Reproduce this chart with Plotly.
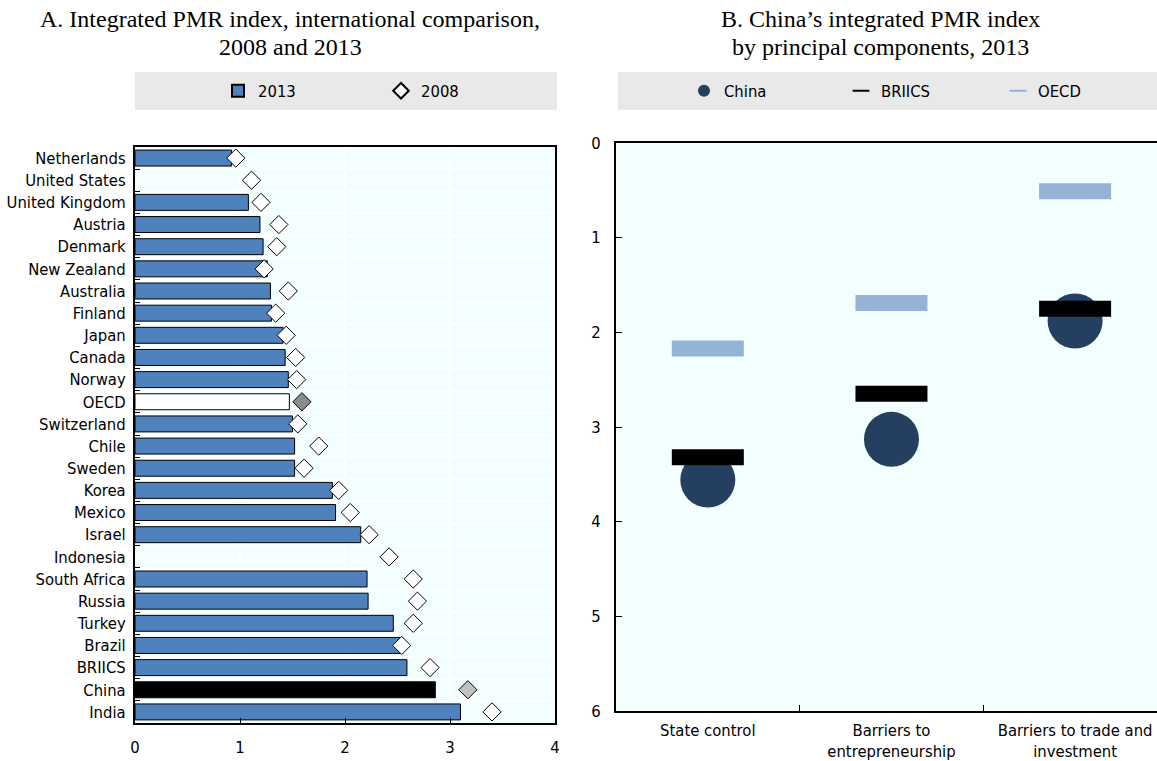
import plotly.graph_objects as go

# Panel A data: integrated PMR index by country
countries = ["Netherlands", "United States", "United Kingdom", "Austria", "Denmark",
             "New Zealand", "Australia", "Finland", "Japan", "Canada", "Norway", "OECD",
             "Switzerland", "Chile", "Sweden", "Korea", "Mexico", "Israel", "Indonesia",
             "South Africa", "Russia", "Turkey", "Brazil", "BRIICS", "China", "India"]
pmr_2013 = [0.92, None, 1.08, 1.19, 1.22, 1.26, 1.29, 1.30, 1.41, 1.43, 1.46, 1.47,
            1.50, 1.52, 1.52, 1.88, 1.91, 2.15, None, 2.21, 2.22, 2.46, 2.55, 2.59,
            2.86, 3.10]
pmr_2008 = [0.96, 1.11, 1.20, 1.37, 1.35, 1.23, 1.46, 1.34, 1.44, 1.53, 1.54, 1.59,
            1.55, 1.75, 1.61, 1.94, 2.05, 2.23, 2.42, 2.65, 2.69, 2.65, 2.54, 2.81,
            3.17, 3.40]

# Panel B data: China's PMR by principal component
components = ["State control", "Barriers to<br>entrepreneurship",
              "Barriers to trade and<br>investment"]
china_vals = [3.56, 3.13, 1.88]
briics_vals = [3.32, 2.65, 1.75]
oecd_vals = [2.17, 1.69, 0.51]

BLUE = "#4F81BD"
NAVY = "#243F60"
LIGHT_BLUE = "#95B3D7"
PLOT_BG = "#F3FEFE"
BAND_BG = "#E9E9E9"
SANS = "DejaVu Sans Condensed, Liberation Sans Narrow, Arial Narrow, sans-serif"
SERIF = "Liberation Serif, Times New Roman, serif"

bar_colors = []
for c in countries:
    if c == "OECD":
        bar_colors.append("white")
    elif c == "China":
        bar_colors.append("black")
    else:
        bar_colors.append(BLUE)

diamond_colors = []
for c in countries:
    if c == "OECD":
        diamond_colors.append("#8C8C8C")
    elif c == "China":
        diamond_colors.append("#C0C0C0")
    else:
        diamond_colors.append("white")

fig = go.Figure()

fig.add_trace(go.Bar(
    x=pmr_2013, y=countries, orientation="h", name="2013",
    marker=dict(color=bar_colors, line=dict(color="black", width=1)),
    xaxis="x", yaxis="y", legend="legend", showlegend=True,
))
fig.add_trace(go.Scatter(
    x=pmr_2008, y=countries, mode="markers", name="2008",
    marker=dict(symbol="diamond", size=14, color=diamond_colors,
                line=dict(color="black", width=1)),
    xaxis="x", yaxis="y", legend="legend",
))

# line-ew markers are drawn 1.4x the marker size in length
DASH_SIZE = 72 / 1.4

fig.add_trace(go.Scatter(
    x=components, y=china_vals, mode="markers", name="China",
    marker=dict(symbol="circle", size=55, color=NAVY, line=dict(width=0)),
    xaxis="x2", yaxis="y2", legend="legend2",
))
fig.add_trace(go.Scatter(
    x=components, y=briics_vals, mode="markers", name="BRIICS",
    marker=dict(symbol="line-ew", size=DASH_SIZE, color="black",
                line=dict(color="black", width=16)),
    xaxis="x2", yaxis="y2", legend="legend2",
))
fig.add_trace(go.Scatter(
    x=components, y=oecd_vals, mode="markers", name="OECD",
    marker=dict(symbol="line-ew", size=DASH_SIZE, color=LIGHT_BLUE,
                line=dict(color=LIGHT_BLUE, width=16)),
    xaxis="x2", yaxis="y2", legend="legend2",
))

W, H = 1157, 761

def px_x(p):
    return p / W

def px_y(p):
    return 1 - p / H

axis_font = dict(family=SANS, size=16.5, color="black")
title_font = dict(family=SERIF, size=24, color="black")
n_countries = len(countries)

fig.update_layout(
    width=W, height=H,
    margin=dict(l=0, r=0, t=0, b=0),
    paper_bgcolor="white",
    plot_bgcolor=PLOT_BG,
    bargap=0.28,
    font=dict(family=SANS, size=16.5, color="black"),
    xaxis=dict(
        domain=[px_x(135), px_x(555)], range=[0, 4], dtick=1,
        showline=True, linecolor="black", linewidth=2, mirror=True,
        ticks="inside", ticklen=5, tickcolor="black",
        showgrid=True, gridcolor="white", gridwidth=1.5,
        zeroline=False, tickfont=axis_font, anchor="y",
        automargin=False, ticklabelstandoff=8,
    ),
    yaxis=dict(
        domain=[px_y(723), px_y(147)],
        categoryorder="array", categoryarray=countries,
        range=[n_countries - 0.5, -0.5],
        tickmode="array", tickvals=countries, ticktext=countries,
        showline=True, linecolor="black", linewidth=2, mirror=True,
        ticks="inside", tickson="boundaries", ticklen=5, tickcolor="black",
        showgrid=True, gridcolor="white", gridwidth=1.5,
        tickfont=axis_font, anchor="x",
        automargin=False, ticklabelstandoff=4,
    ),
    xaxis2=dict(
        domain=[px_x(616), 1.0], range=[-0.5, 2.446],
        showline=True, linecolor="black", linewidth=2, mirror=True,
        ticks="inside", tickson="boundaries", ticklen=6, tickcolor="black",
        showgrid=False, tickfont=axis_font, anchor="y2",
        automargin=False, ticklabelstandoff=3,
    ),
    yaxis2=dict(
        domain=[px_y(711), px_y(143)], range=[6, 0], dtick=1,
        showline=True, linecolor="black", linewidth=2,
        ticks="inside", ticklen=6, tickcolor="black",
        showgrid=False, zeroline=False, tickfont=axis_font, anchor="x2",
        automargin=False, ticklabelstandoff=10,
    ),
    legend=dict(
        orientation="h", x=px_x(218), y=px_y(91), xanchor="left", yanchor="middle",
        bgcolor="rgba(0,0,0,0)", font=dict(family=SANS, size=16.5),
        entrywidth=118, entrywidthmode="pixels", itemsizing="constant",
    ),
    legend2=dict(
        orientation="h", x=px_x(684), y=px_y(91), xanchor="left", yanchor="middle",
        bgcolor="rgba(0,0,0,0)", font=dict(family=SANS, size=16.5),
        entrywidth=112, entrywidthmode="pixels", itemsizing="constant",
    ),
    shapes=[
        dict(type="rect", xref="paper", yref="paper",
             x0=px_x(135), x1=px_x(557), y0=px_y(110), y1=px_y(72),
             fillcolor=BAND_BG, line=dict(width=0), layer="below"),
        dict(type="rect", xref="paper", yref="paper",
             x0=px_x(618), x1=1.0, y0=px_y(110), y1=px_y(72),
             fillcolor=BAND_BG, line=dict(width=0), layer="below"),
    ],
    annotations=[
        dict(text="A. Integrated PMR index, international comparison,",
             xref="paper", yref="paper", x=px_x(290), y=px_y(19),
             xanchor="center", yanchor="middle", showarrow=False, font=title_font),
        dict(text="2008 and 2013",
             xref="paper", yref="paper", x=px_x(290), y=px_y(47),
             xanchor="center", yanchor="middle", showarrow=False, font=title_font),
        dict(text="B. China\u2019s integrated PMR index",
             xref="paper", yref="paper", x=px_x(880), y=px_y(19),
             xanchor="center", yanchor="middle", showarrow=False, font=title_font),
        dict(text="by principal components, 2013",
             xref="paper", yref="paper", x=px_x(880), y=px_y(47),
             xanchor="center", yanchor="middle", showarrow=False, font=title_font),
    ],
)

fig.write_html("out.html")
